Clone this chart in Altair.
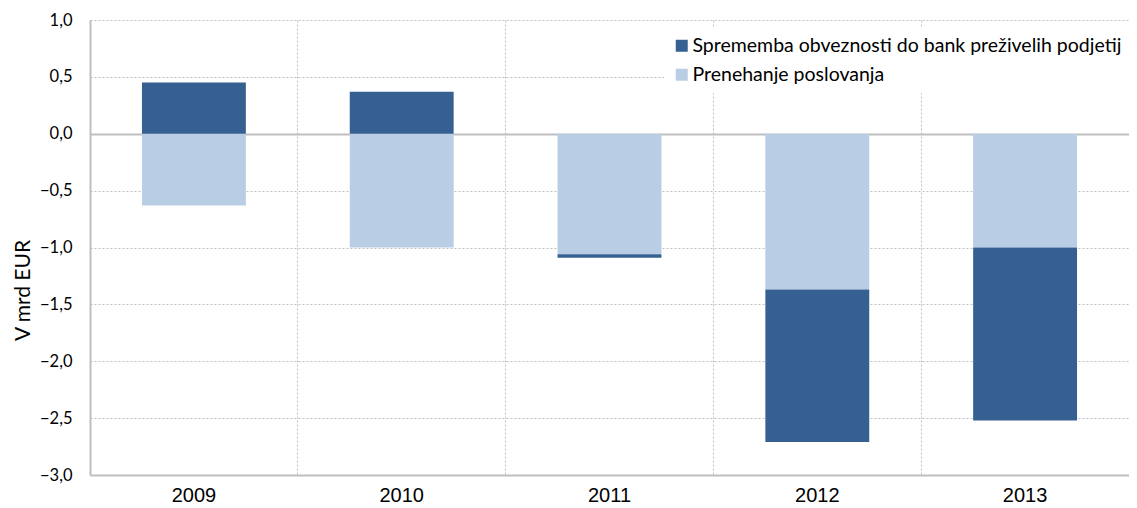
import altair as alt
import pandas as pd

years = ["2009", "2010", "2011", "2012", "2013"]
series_dark = "Sprememba obveznosti do bank preživelih podjetij"
series_light = "Prenehanje poslovanja"
dark_values = [0.45, 0.37, -0.03, -1.34, -1.52]
light_values = [-0.63, -1.00, -1.06, -1.37, -1.00]

rows = []
for y, d, l in zip(years, dark_values, light_values):
    rows.append({"leto": y, "serija": series_light, "vrednost": l, "red": 0})
    rows.append({"leto": y, "serija": series_dark, "vrednost": d, "red": 1})
df = pd.DataFrame(rows)

grid_gray = "#BFBFBF"

bars = alt.Chart(df).mark_bar(width=alt.RelativeBandSize(0.5)).encode(
    x=alt.X(
        "leto:N",
        sort=years,
        scale=alt.Scale(paddingInner=0, paddingOuter=0),
        axis=alt.Axis(
            title=None,
            labelAngle=0,
            ticks=False,
            grid=True,
            bandPosition=0,
            gridColor=grid_gray,
            gridDash=[2, 2],
            gridWidth=1,
            domainColor=grid_gray,
            domainWidth=2,
            labelFont="Liberation Sans",
            labelFontSize=20,
            labelColor="#000000",
            labelPadding=10,
        ),
    ),
    y=alt.Y(
        "vrednost:Q",
        stack="zero",
        scale=alt.Scale(domain=[-3.0, 1.0], nice=False),
        axis=alt.Axis(
            title="V mrd EUR",
            values=[-3.0, -2.5, -2.0, -1.5, -1.0, -0.5, 0.0, 0.5, 1.0],
            labelExpr="replace(format(datum.value, '.1f'), '.', ',')",
            ticks=False,
            grid=True,
            gridColor=grid_gray,
            gridDash=alt.condition("datum.value == 0", alt.value([]), alt.value([2, 2])),
            gridWidth=alt.condition("datum.value == 0", alt.value(2), alt.value(1)),
            domainColor=grid_gray,
            domainWidth=2,
            labelFont="Lato",
            labelFontSize=16.5,
            labelColor="#000000",
            labelPadding=18,
            titleFont="Lato",
            titleFontSize=21,
            titleFontWeight="normal",
            titleColor="#000000",
            titleAnchor="middle",
            titleY=270,
            titleX=-57,
        ),
    ),
    color=alt.Color(
        "serija:N",
        scale=alt.Scale(domain=[series_dark, series_light], range=["#366092", "#B9CDE5"]),
        legend=alt.Legend(
            title=None,
            orient="none",
            legendX=574,
            legendY=8,
            fillColor="white",
            padding=8,
            symbolType="square",
            symbolSize=144,
            symbolStrokeWidth=0,
            labelFont="Lato",
            labelFontSize=19.5,
            labelColor="#000000",
            labelOffset=1,
            rowPadding=8,
            labelLimit=600,
        ),
    ),
    order=alt.Order("red:Q"),
)

chart = bars.properties(
    width=1039,
    height=455,
    autosize=alt.AutoSizeParams(type="none"),
    padding={"left": 82, "top": 12, "right": 0, "bottom": 33},
).configure_view(stroke=None)

chart.save("out.html", embed_options={"renderer": "svg", "actions": False})
